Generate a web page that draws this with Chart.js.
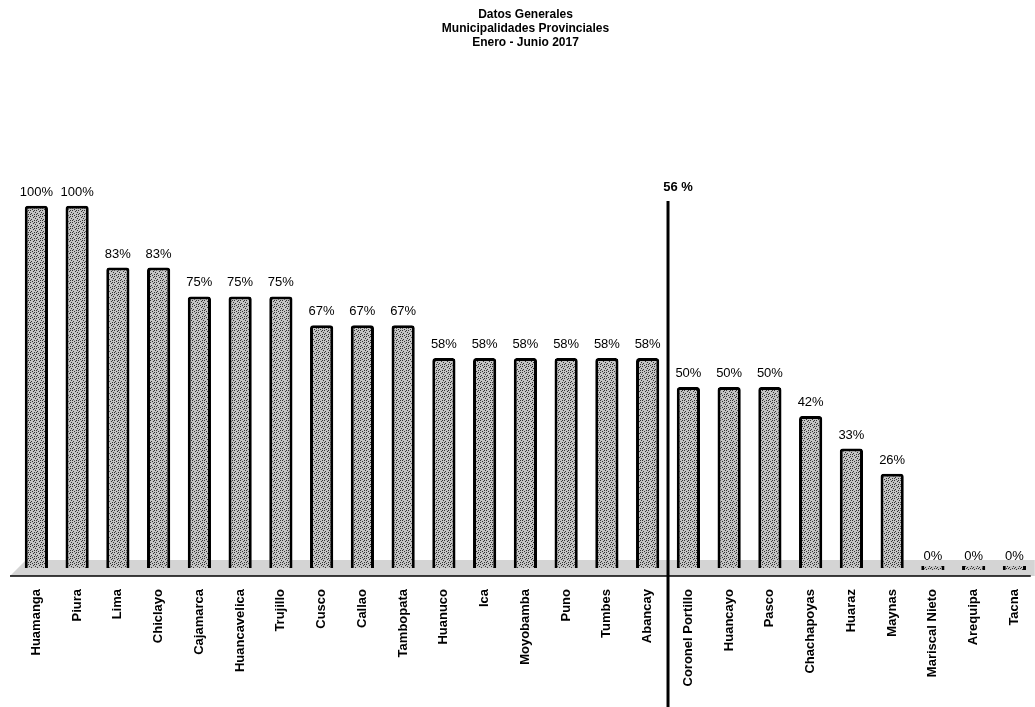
<!DOCTYPE html>
<html lang="es">
<head>
<meta charset="UTF-8">
<title>Datos Generales</title>
<script src="https://cdn.jsdelivr.net/npm/chart.js@4.4.1/dist/chart.umd.min.js"></script>
<style>
  html, body { margin:0; padding:0; background:#fff; }
  #wrap { width:1035px; height:707px; position:relative; }
</style>
</head>
<body>
<div id="wrap"><canvas id="myChart"></canvas></div>
<script>
// datos
var provincias = ['Huamanga','Piura','Lima','Chiclayo','Cajamarca','Huancavelica','Trujillo','Cusco','Callao','Tambopata',
  'Huanuco','Ica','Moyobamba','Puno','Tumbes','Abancay','Coronel Portillo','Huancayo','Pasco','Chachapoyas',
  'Huaraz','Maynas','Mariscal Nieto','Arequipa','Tacna'];
var porcentajes = [100,100,83,83,75,75,75,67,67,67,58,58,58,58,58,58,50,50,50,42,33,26,0,0,0];
var tituloLineas = ['Datos Generales','Municipalidades Provinciales','Enero - Junio 2017'];
var promedio = 56;
var promedioLabel = '56 %';
var promedioPos = 15.5; // entre Abancay y Coronel Portillo

// textura punteada (fija, no aleatoria)
var f_pattern = function(){
  var c = document.createElement('canvas');
  c.width = 6; c.height = 6;
  var x = c.getContext('2d');
  x.fillStyle = '#c4c4c4';
  x.fillRect(0,0,6,6);
  x.fillStyle = '#333';
  var pts = [[0,0],[3,1],[1,3],[4,4],[5,2],[2,5],[4,0],[0,4]];
  for (var i=0;i<pts.length;i++) x.fillRect(pts[i][0],pts[i][1],1,1);
  return x.createPattern(c,'repeat');
};

var v_font = "'Liberation Sans', Arial, sans-serif";

var fondoPlugin = {
  id: 'fondo',
  beforeDatasetsDraw: function(chart){
    var ctx = chart.ctx, ca = chart.chartArea, y = chart.scales.y;
    var y0 = y.getPixelForValue(0);
    ctx.save();
    // piso gris
    ctx.fillStyle = '#d4d4d4';
    ctx.beginPath();
    ctx.moveTo(ca.left - 6, ca.bottom);
    ctx.lineTo(ca.left + 10, y0 - 8);
    ctx.lineTo(ca.right, y0 - 8);
    ctx.lineTo(ca.right, ca.bottom);
    ctx.closePath();
    ctx.fill();
    ctx.strokeStyle = '#000';
    ctx.lineWidth = 1.5;
    ctx.beginPath();
    ctx.moveTo(ca.left - 6, ca.bottom);
    ctx.lineTo(ca.right - 4, ca.bottom);
    ctx.stroke();
    ctx.restore();
  },
  afterDatasetsDraw: function(chart){
    var ctx = chart.ctx, meta = chart.getDatasetMeta(0);
    ctx.save();
    ctx.fillStyle = '#000';
    ctx.font = '13px ' + v_font;
    ctx.textAlign = 'center';
    ctx.textBaseline = 'bottom';
    meta.data.forEach(function(bar, i){
      ctx.fillText(porcentajes[i] + '%', bar.x, bar.y - 7);
    });
    // linea promedio
    var x = chart.scales.x.getPixelForValue(promedioPos);
    ctx.strokeStyle = '#000';
    ctx.lineWidth = 3;
    ctx.beginPath();
    ctx.moveTo(x, 201);
    ctx.lineTo(x, chart.height);
    ctx.stroke();
    ctx.font = 'bold 13px ' + v_font;
    ctx.fillText(promedioLabel, x + 10, 194);
    ctx.restore();
  }
};

var ctx = document.getElementById('myChart').getContext('2d');
var myChart = new Chart(ctx, {
  type: 'bar',
  data: {
    labels: provincias,
    datasets: [{
      label: 'Porcentaje',
      data: porcentajes,
      backgroundColor: f_pattern(),
      borderColor: '#000',
      borderWidth: {left:3, right:3, top:3, bottom:0},
      borderSkipped: 'bottom',
      borderRadius: {topLeft:3, topRight:3},
      minBarLength: 4,
      barPercentage: 0.57,
      categoryPercentage: 1
    }]
  },
  options: {
    responsive: true,
    maintainAspectRatio: false,
    animation: false,
    layout: { padding: {left:16, right:0, top:0, bottom:0} },
    plugins: {
      legend: { display:false },
      tooltip: { enabled:false },
      title: {
        display: true,
        text: tituloLineas,
        color: '#000',
        font: { family: v_font, size: 12, weight: 'bold', lineHeight: 1.17 },
        padding: { top: 8, bottom: 0 }
      }
    },
    scales: {
      x: {
        grid: { display:false },
        border: { display:false },
        ticks: {
          color: '#000',
          autoSkip: false,
          minRotation: 90,
          maxRotation: 90,
          padding: 5,
          font: { family: v_font, size: 13, weight: 'bold' }
        },
        afterFit: function(s){ s.height = 131; }
      },
      y: {
        display: false,
        min: -2.2,
        max: 143
      }
    }
  },
  plugins: [fondoPlugin]
});
</script>
</body>
</html>
